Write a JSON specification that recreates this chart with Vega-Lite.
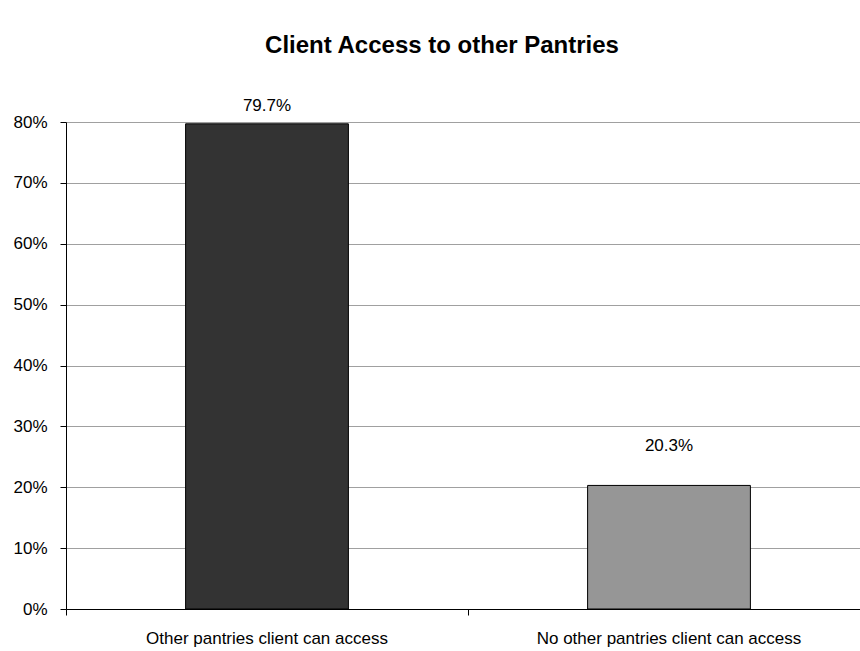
{
  "$schema": "https://vega.github.io/schema/vega-lite/v6.json",
  "autosize": "none",
  "width": 804,
  "height": 487,
  "padding": {"left": 66, "top": 122, "right": 0, "bottom": 42},
  "background": "white",
  "config": {
    "view": {"stroke": null},
    "font": "Liberation Sans, Arial, sans-serif"
  },
  "title": {
    "text": "Client Access to other Pantries",
    "fontSize": 24,
    "fontWeight": "bold",
    "color": "#000000",
    "font": "Liberation Sans, Arial, sans-serif",
    "anchor": "middle",
    "dx": -26,
    "offset": 39
  },
  "data": {
    "values": [
      {"category": "Other pantries client can access", "share": 0.797, "label": "79.7%"},
      {"category": "No other pantries client can access", "share": 0.203, "label": "20.3%"}
    ]
  },
  "encoding": {
    "x": {
      "field": "category",
      "type": "nominal",
      "sort": null,
      "scale": {"paddingInner": 0, "paddingOuter": 0},
      "axis": {
        "title": null,
        "labelAngle": 0,
        "labelFontSize": 17,
        "labelLimit": 0,
        "labelColor": "#000000",
        "labelPadding": 15,
        "domainColor": "#000000",
        "domainWidth": 1,
        "tickColor": "#000000",
        "tickSize": 6,
        "bandPosition": 0,
        "grid": false
      }
    },
    "y": {
      "field": "share",
      "type": "quantitative",
      "scale": {"domain": [0, 0.8], "nice": false},
      "axis": {
        "title": null,
        "format": ".0%",
        "values": [0, 0.1, 0.2, 0.3, 0.4, 0.5, 0.6, 0.7, 0.8],
        "labelFontSize": 17,
        "labelColor": "#000000",
        "labelPadding": 13,
        "domainColor": "#000000",
        "tickColor": "#000000",
        "tickSize": 6,
        "gridColor": "#a0a0a0",
        "gridWidth": 1
      }
    }
  },
  "layer": [
    {
      "mark": {"type": "bar", "width": {"band": 0.405}, "stroke": "#000000", "strokeWidth": 1},
      "encoding": {
        "color": {
          "field": "category",
          "type": "nominal",
          "scale": {
            "domain": ["Other pantries client can access", "No other pantries client can access"],
            "range": ["#333333", "#969696"]
          },
          "legend": null
        }
      }
    },
    {
      "transform": [{"filter": "datum.share > 0.5"}],
      "mark": {"type": "text", "fontSize": 17, "color": "#000000", "baseline": "middle", "dy": -18},
      "encoding": {"text": {"field": "label"}}
    },
    {
      "transform": [{"filter": "datum.share <= 0.5"}],
      "mark": {"type": "text", "fontSize": 17, "color": "#000000", "baseline": "middle", "dy": -39},
      "encoding": {"text": {"field": "label"}}
    }
  ]
}
